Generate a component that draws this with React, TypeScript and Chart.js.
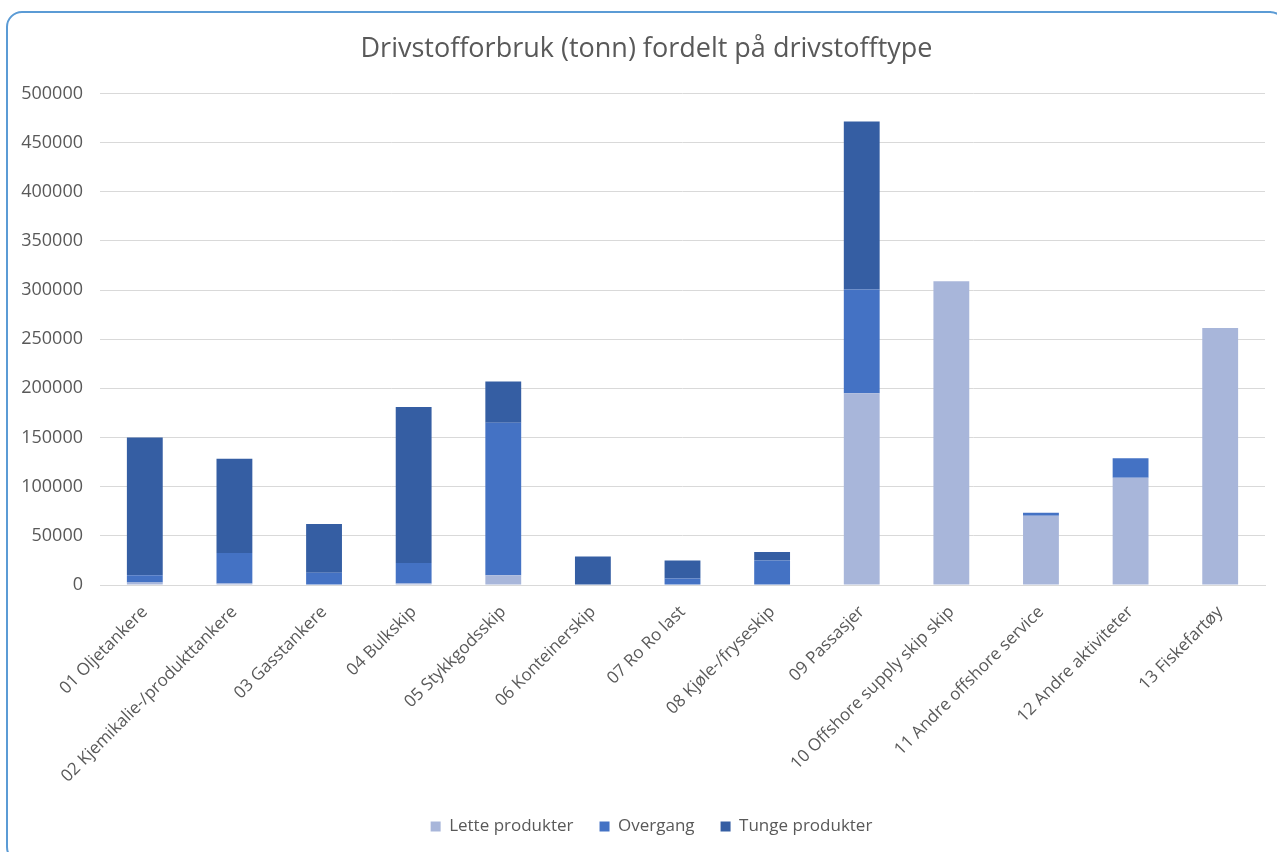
import React, { useEffect, useRef } from "react";
import { Chart, registerables } from "chart.js";

Chart.register(...registerables);

const categories = [
  "01 Oljetankere",
  "02 Kjemikalie-/produkttankere",
  "03 Gasstankere",
  "04 Bulkskip",
  "05 Stykkgodsskip",
  "06 Konteinerskip",
  "07 Ro Ro last",
  "08 Kjøle-/fryseskip",
  "09 Passasjer",
  "10 Offshore supply skip skip",
  "11 Andre offshore service",
  "12 Andre aktiviteter",
  "13 Fiskefartøy",
];

const lette = [2500, 1500, 500, 1500, 10000, 0, 0, 0, 195000, 309000, 70500, 109000, 261500];
const overgang = [7500, 31000, 12000, 21000, 155000, 0, 6500, 25000, 105500, 0, 3000, 20000, 0];
const tunge = [140000, 96000, 49500, 158500, 42000, 29000, 18500, 8500, 171000, 0, 0, 0, 0];

const seriesNames = ["Lette produkter", "Overgang", "Tunge produkter"];
const yTicks = { min: 0, max: 500000, step: 50000 };

const TEXT = "#595959";
const FONT = "'Open Sans', 'Noto Sans', sans-serif";

const shiftBoxes = {
  id: "shiftBoxes",
  afterLayout(chart: any) {
    if (chart.legend) {
      chart.legend.left += 10;
      chart.legend.right += 10;
    }
    if (chart.titleBlock) {
      chart.titleBlock.left += 5;
      chart.titleBlock.right += 5;
    }
  },
};

export default function App() {
  const ref = useRef<HTMLCanvasElement | null>(null);

  useEffect(() => {
    if (!ref.current) return;
    const chart = new Chart(ref.current, {
      type: "bar",
      data: {
        labels: categories,
        datasets: [
          { label: seriesNames[0], data: lette, backgroundColor: "#A8B6DA" },
          { label: seriesNames[1], data: overgang, backgroundColor: "#4472C4" },
          { label: seriesNames[2], data: tunge, backgroundColor: "#355EA3" },
        ].map((d) => ({
          ...d,
          categoryPercentage: 0.8,
          barPercentage: 0.5,
          borderWidth: 0,
        })),
      },
      plugins: [shiftBoxes],
      options: {
        responsive: false,
        animation: false,
        layout: { padding: { top: 12, left: 18, right: 12, bottom: 7 } },
        plugins: {
          title: {
            display: true,
            text: "Drivstofforbruk (tonn) fordelt på drivstofftype",
            color: TEXT,
            font: { family: FONT, size: 27, weight: "normal" },
            padding: { top: 21, bottom: 28 },
          },
          legend: {
            position: "bottom",
            labels: {
              color: TEXT,
              font: { family: FONT, size: 17 },
              boxWidth: 10,
              boxHeight: 10,
              padding: 26,
            },
          },
          tooltip: { enabled: false },
        },
        scales: {
          x: {
            stacked: true,
            grid: { display: false },
            border: { display: true, color: "#D9D9D9", width: 1 },
            ticks: {
              color: TEXT,
              font: { family: FONT, size: 17 },
              minRotation: 45,
              maxRotation: 45,
              autoSkip: false,
              padding: 9,
            },
            afterFit: (scale: any) => {
              scale.height = 207;
            },
          },
          y: {
            stacked: true,
            min: yTicks.min,
            max: yTicks.max,
            border: { display: false },
            grid: { color: "#D9D9D9", drawTicks: false, lineWidth: 1 },
            ticks: {
              stepSize: yTicks.step,
              color: TEXT,
              font: { family: FONT, size: 18 },
              padding: 17,
              callback: (v: any) => String(v),
            },
            afterFit: (scale: any) => {
              scale.width = 82;
            },
          },
        },
      },
    });
    return () => chart.destroy();
  }, []);

  return (
    <div style={{ position: "fixed", inset: 0, overflow: "hidden", background: "#fff" }}>
      <div
        style={{
          position: "absolute",
          left: 6,
          top: 11,
          width: 1280,
          height: 852,
          border: "2px solid #5B9BD5",
          borderRadius: 16,
          boxSizing: "border-box",
        }}
      />
      <canvas
        ref={ref}
        width={1277}
        height={852}
        style={{ position: "absolute", left: 0, top: 0, width: 1277, height: 852 }}
      />
    </div>
  );
}
